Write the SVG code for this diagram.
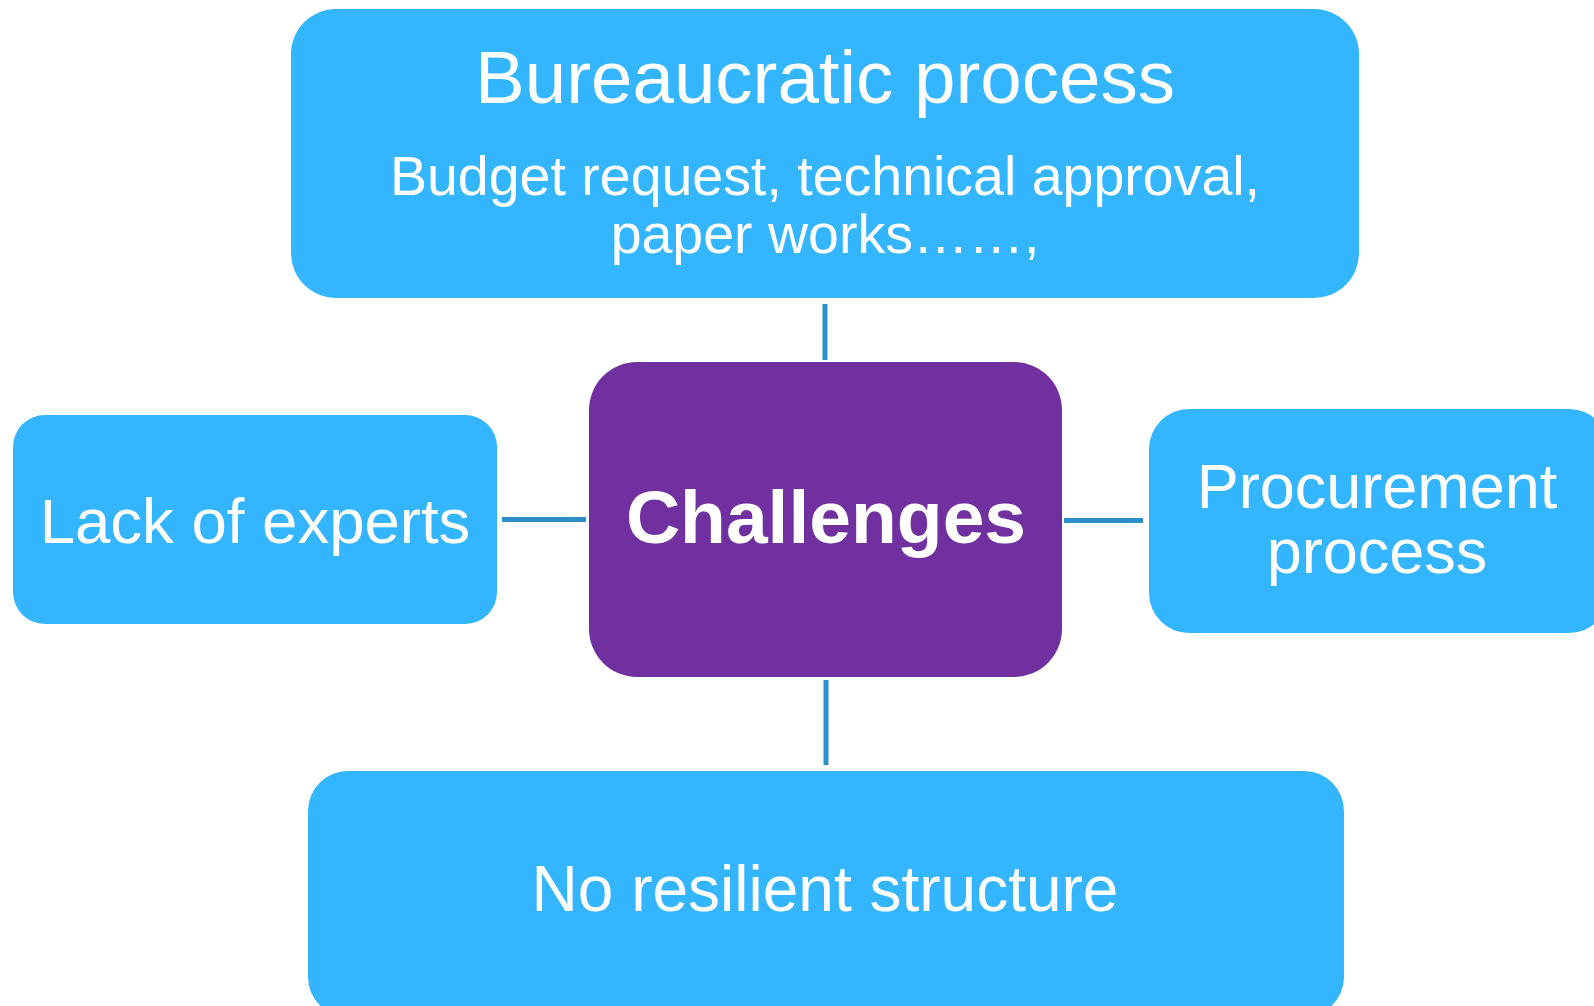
<svg xmlns="http://www.w3.org/2000/svg" width="1594" height="1006" viewBox="0 0 1594 1006">
<style>
.box{fill:#33b5ff}
.center{fill:#7030a0}
.t{font-family:"Liberation Sans",Arial,sans-serif;fill:#ffffff;text-anchor:middle}
.b{font-weight:bold}
.c{stroke:#2a8fca;stroke-width:5;fill:none}
</style>
<rect width="1594" height="1006" fill="#ffffff"/>
<g id="connectors">
<line class="c" x1="825" y1="304" x2="825" y2="360"/>
<line class="c" x1="826" y1="680" x2="826" y2="765"/>
<line class="c" x1="502" y1="519.5" x2="586" y2="519.5"/>
<line class="c" x1="1064" y1="520.5" x2="1143" y2="520.5"/>
</g>
<g id="node-bureaucratic">
<rect class="box" x="291" y="9" width="1068" height="289" rx="45" ry="45"/>
<text class="t" x="825" y="103" font-size="74.5">Bureaucratic process</text>
<text class="t" x="825" y="195" font-size="55.5">Budget request, technical approval,</text>
<text class="t" x="825" y="253" font-size="55.5">paper works……,</text>
</g>
<g id="node-challenges">
<rect class="center" x="589" y="362" width="473" height="315" rx="48" ry="48"/>
<text class="t b" x="826" y="543" font-size="75">Challenges</text>
</g>
<g id="node-lack">
<rect class="box" x="13" y="415" width="484" height="209" rx="32" ry="32"/>
<text class="t" x="255" y="543" font-size="63.5">Lack of experts</text>
</g>
<g id="node-procurement">
<rect class="box" x="1149" y="409" width="460" height="224" rx="40" ry="40"/>
<text class="t" x="1377" y="508" font-size="63">Procurement</text>
<text class="t" x="1377" y="573" font-size="63">process</text>
</g>
<g id="node-resilient">
<rect class="box" x="308" y="771" width="1036" height="246" rx="40" ry="40"/>
<text class="t" x="825" y="911" font-size="64">No resilient structure</text>
</g>
</svg>
